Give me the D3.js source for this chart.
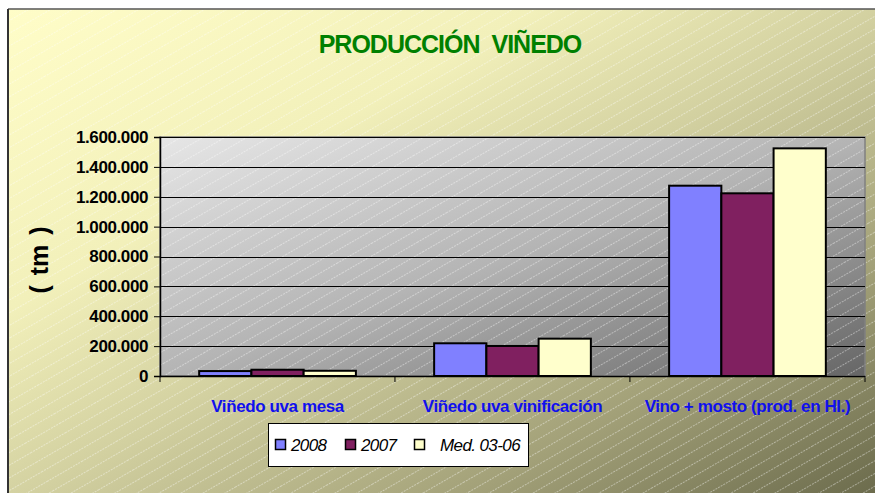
<!DOCTYPE html>
<html><head><meta charset="utf-8">
<script src="https://cdn.jsdelivr.net/npm/d3@7"></script>
<style>html,body{margin:0;padding:0;background:#fff;}svg{display:block;}</style>
</head><body>
<svg id="chart" width="875" height="493"></svg>
<script>
const categories = ["Viñedo uva mesa", "Viñedo uva vinificación", "Vino + mosto (prod. en Hl.)"];
const seriesNames = ["2008", "2007", "Med. 03-06"];
const values2008 = [33000, 219000, 1274000];
const values2007 = [42000, 201000, 1223000];
const valuesMed = [35000, 250000, 1524000];
const yTicks = [0, 200000, 400000, 600000, 800000, 1000000, 1200000, 1400000, 1600000];
const seriesColors = ["#8080ff", "#802060", "#ffffcc"];
const titleText = "PRODUCCIÓN VIÑEDO";
const yTitle = "( tm )";

const series = [values2008, values2007, valuesMed];
const svg = d3.select("#chart");
const defs = svg.append("defs");

const bg = defs.append("linearGradient").attr("id","bg").attr("x1",0).attr("y1",0).attr("x2",1).attr("y2",1);
bg.append("stop").attr("offset",0).attr("stop-color","#fffdc8");
bg.append("stop").attr("offset",0.3).attr("stop-color","#f2f0ba");
bg.append("stop").attr("offset",0.5).attr("stop-color","#d2d0a0");
bg.append("stop").attr("offset",0.75).attr("stop-color","#a2a078");
bg.append("stop").attr("offset",1).attr("stop-color","#666648");

const pg = defs.append("linearGradient").attr("id","pg").attr("x1",0).attr("y1",0).attr("x2",1).attr("y2",1);
pg.append("stop").attr("offset",0).attr("stop-color","#e6e6e6");
pg.append("stop").attr("offset",0.5).attr("stop-color","#b4b4b4");
pg.append("stop").attr("offset",1).attr("stop-color","#666666");

const pat = defs.append("pattern").attr("id","stripes").attr("patternUnits","userSpaceOnUse")
  .attr("width",40).attr("height",11).attr("patternTransform","rotate(-30)");
pat.append("line").attr("x1",0).attr("y1",0.5).attr("x2",40).attr("y2",0.5)
  .attr("stroke","#ffffff").attr("stroke-opacity",0.4).attr("stroke-width",1).attr("stroke-dasharray","2,1");

// chart background
svg.append("rect").attr("x",8).attr("y",9).attr("width",880).attr("height",500).attr("fill","url(#bg)");
svg.append("rect").attr("x",8).attr("y",9).attr("width",880).attr("height",500).attr("fill","url(#stripes)");
svg.append("line").attr("x1",8).attr("y1",9).attr("x2",875).attr("y2",9).attr("stroke","#555").attr("stroke-width",1.5);
svg.append("line").attr("x1",8).attr("y1",9).attr("x2",8).attr("y2",493).attr("stroke","#333").attr("stroke-width",2);

const m = {left:160, right:865, top:137, bottom:376};
const x0 = d3.scaleBand().domain(categories).range([m.left, m.right]).paddingInner(0.333).paddingOuter(0.1667);
const x1 = d3.scaleBand().domain(seriesNames).range([0, x0.bandwidth()]);
const y = d3.scaleLinear().domain([0,1600000]).range([m.bottom, m.top]);

// plot area
svg.append("rect").attr("x",m.left).attr("y",m.top).attr("width",m.right-m.left).attr("height",m.bottom-m.top).attr("fill","url(#pg)");
svg.append("rect").attr("x",m.left).attr("y",m.top).attr("width",m.right-m.left).attr("height",m.bottom-m.top).attr("fill","url(#stripes)");
svg.append("rect").attr("x",m.left).attr("y",m.top).attr("width",m.right-m.left).attr("height",m.bottom-m.top)
  .attr("fill","none").attr("stroke","#808080").attr("stroke-width",1.5);

// gridlines
svg.append("g").selectAll("line").data(yTicks.filter(d=>d>0)).join("line")
  .attr("x1",m.left).attr("x2",m.right).attr("y1",d=>Math.round(y(d))+0.5).attr("y2",d=>Math.round(y(d))+0.5)
  .attr("stroke","#000").attr("stroke-width",1);

// bars
const groups = svg.append("g").selectAll("g").data(categories).join("g")
  .attr("transform", c => `translate(${x0(c)},0)`);
groups.selectAll("rect").data((c,i) => seriesNames.map((s,j)=>({s, v: series[j][i], j}))).join("rect")
  .attr("x", d => x1(d.s)).attr("width", x1.bandwidth())
  .attr("y", d => y(d.v)).attr("height", d => m.bottom - y(d.v))
  .attr("fill", d => seriesColors[d.j]).attr("stroke","#000").attr("stroke-width",2);

// y axis
const loc = d3.formatLocale({decimal:",", thousands:".", grouping:[3], currency:["",""]});
const fmt = loc.format(",d");
const yAxis = svg.append("g").attr("transform",`translate(${m.left},0)`)
  .call(d3.axisLeft(y).tickValues(yTicks).tickFormat(fmt).tickSize(6).tickPadding(6));
yAxis.select(".domain").attr("stroke","#000").attr("stroke-width",1.5);
yAxis.selectAll(".tick line").attr("stroke","#000");
yAxis.selectAll("text").attr("font-family","Liberation Sans, Arial, sans-serif").attr("font-size",17)
  .attr("font-weight","bold").attr("fill","#000").attr("letter-spacing","-0.4");

// x axis
const xAxis = svg.append("g").attr("transform",`translate(0,${m.bottom})`);
xAxis.append("line").attr("x1",m.left).attr("x2",m.right).attr("y1",0.5).attr("y2",0.5).attr("stroke","#000").attr("stroke-width",1.5);
const bounds = categories.map(c => x0(c) - x0.step()*x0.paddingOuter()).concat([m.right]);
xAxis.selectAll("line.tk").data(bounds).join("line").attr("class","tk")
  .attr("x1",d=>d).attr("x2",d=>d).attr("y1",0).attr("y2",6).attr("stroke","#000");
xAxis.selectAll("text").data(categories).join("text")
  .attr("x", c => x0(c) + x0.bandwidth()/2).attr("y", 36)
  .attr("text-anchor","middle").attr("font-family","Liberation Sans, Arial, sans-serif")
  .attr("font-size",17).attr("font-weight","bold").attr("fill","#1010ee").attr("letter-spacing","-0.4")
  .text(c => c);

// title
svg.append("text").attr("x",450).attr("y",53).attr("text-anchor","middle")
  .attr("font-family","Liberation Sans, Arial, sans-serif").attr("font-size",25).attr("font-weight","bold")
  .attr("fill","#008000").attr("letter-spacing","-1").attr("word-spacing","6").text(titleText);

// y title
svg.append("text").attr("transform","translate(48,260) rotate(-90)").attr("text-anchor","middle")
  .attr("font-family","Liberation Sans, Arial, sans-serif").attr("font-size",25).attr("font-weight","bold")
  .attr("fill","#000").attr("word-spacing","3").text(yTitle);

// legend
const lg = svg.append("g");
lg.append("rect").attr("x",268.5).attr("y",423.5).attr("width",260).attr("height",43).attr("fill","#fff").attr("stroke","#000").attr("stroke-width",1);
const legX = [275, 345, 414];
const legTX = [291, 361, 440];
seriesNames.forEach((s,i) => {
  lg.append("rect").attr("x",legX[i]+0.5).attr("y",439.5).attr("width",10).attr("height",10)
    .attr("fill",seriesColors[i]).attr("stroke","#000").attr("stroke-width",1.5);
  lg.append("text").attr("x",legTX[i]).attr("y",451).attr("font-family","Liberation Sans, Arial, sans-serif")
    .attr("font-size",17).attr("font-style","italic").attr("fill","#000").attr("letter-spacing","-0.6").text(s);
});
</script>
</body></html>
